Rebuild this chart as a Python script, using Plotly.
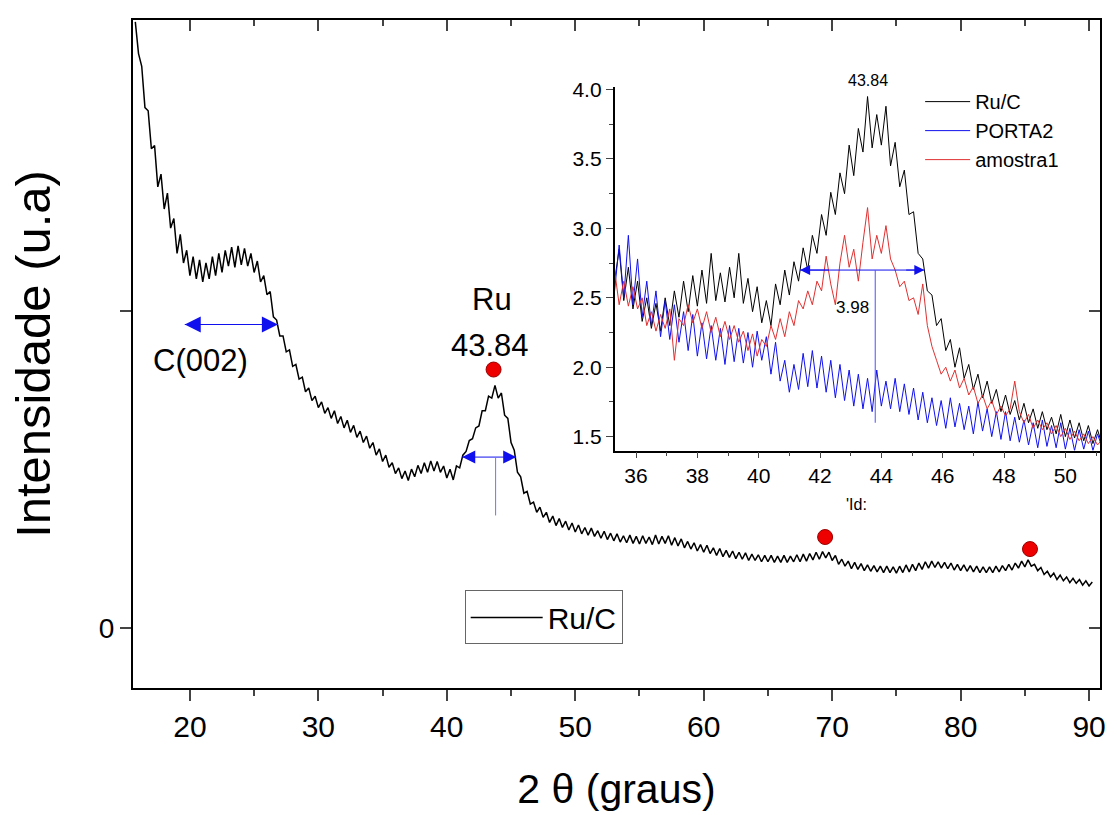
import plotly.graph_objects as go

# ---------------- data ----------------
main_x0, main_step = 15.75, 0.25
ruc_main = [
    9.55,
    9.05, 8.85, 8.2, 8.15,
    7.55, 7.6, 6.95, 7.15,
    6.6, 6.85, 6.3, 6.45,
    5.9, 6.2, 5.75, 5.95,
    5.55, 5.85, 5.5, 5.8,
    5.45, 5.75, 5.5, 5.85,
    5.55, 5.9, 5.6, 5.95,
    5.7, 6.0, 5.68, 6.02,
    5.72, 5.98, 5.7, 5.9,
    5.6, 5.78, 5.45, 5.55,
    5.25, 5.3, 4.9, 4.85,
    4.6, 4.6, 4.35, 4.38,
    4.12, 4.15, 3.92, 3.95,
    3.72, 3.78, 3.58, 3.65,
    3.47, 3.56, 3.38, 3.47,
    3.3, 3.42, 3.22, 3.33,
    3.15, 3.27, 3.08, 3.19,
    3.0, 3.1, 2.92, 3.02,
    2.83, 2.92, 2.72, 2.82,
    2.62, 2.72, 2.53, 2.6,
    2.43, 2.52, 2.35, 2.47,
    2.32, 2.5, 2.38, 2.56,
    2.43, 2.6, 2.45, 2.63,
    2.47, 2.62, 2.45, 2.55,
    2.36, 2.5, 2.33, 2.55,
    2.52, 2.72, 2.78, 2.95,
    2.98, 3.15, 3.18, 3.42,
    3.42, 3.65, 3.62, 3.82,
    3.62, 3.7, 3.35, 3.3,
    2.92, 2.8, 2.45, 2.38,
    2.12, 2.15, 1.95, 1.98,
    1.82, 1.9, 1.74, 1.82,
    1.66, 1.76, 1.61, 1.72,
    1.58, 1.68, 1.54, 1.65,
    1.51, 1.62, 1.48, 1.58,
    1.46, 1.57, 1.44, 1.53,
    1.41, 1.52, 1.39, 1.49,
    1.37, 1.48, 1.35, 1.45,
    1.34, 1.46, 1.33, 1.44,
    1.32, 1.45, 1.33, 1.43,
    1.31, 1.46, 1.32, 1.44,
    1.33, 1.45, 1.3, 1.42,
    1.29, 1.4, 1.26, 1.36,
    1.24, 1.34, 1.21, 1.31,
    1.19, 1.3, 1.17, 1.26,
    1.14, 1.25, 1.12, 1.22,
    1.11, 1.21, 1.09, 1.19,
    1.08, 1.18, 1.06, 1.16,
    1.06, 1.15, 1.04, 1.14,
    1.04, 1.14, 1.03, 1.13,
    1.03, 1.14, 1.03, 1.13,
    1.04, 1.15, 1.04, 1.16,
    1.05, 1.17, 1.07, 1.19,
    1.08, 1.2, 1.1, 1.19,
    1.06, 1.14, 1.0, 1.08,
    0.97, 1.05, 0.93, 1.03,
    0.92, 1.01, 0.9, 0.99,
    0.89, 0.98, 0.88, 0.97,
    0.87, 0.97, 0.87, 0.96,
    0.86, 0.97, 0.87, 0.99,
    0.88, 1.0, 0.9, 1.02,
    0.92, 1.04, 0.94, 1.05,
    0.95, 1.04, 0.94, 1.03,
    0.93, 1.02, 0.91, 1.0,
    0.9, 0.99, 0.89, 0.98,
    0.88, 0.97, 0.87, 0.96,
    0.87, 0.96, 0.87, 0.97,
    0.88, 0.98, 0.9, 1.0,
    0.91, 1.02, 0.94, 1.05,
    0.96, 1.07, 0.97, 1.0,
    0.9, 0.95, 0.84, 0.89,
    0.8, 0.86, 0.76, 0.83,
    0.74, 0.8, 0.71, 0.78,
    0.7, 0.76, 0.67, 0.74,
    0.66, 0.72,
]
main_x = [round(main_x0 + main_step * i, 3) for i in range(len(ruc_main))]

peak_x = [43.64, 69.45, 85.4]
peak_y = [4.07, 1.43, 1.24]

inset_x0, inset_step = 35.3, 0.15
ruc_inset = [
    2.62, 2.85, 2.48, 2.72, 2.42, 2.62, 2.33, 2.5, 2.28, 2.46,
    2.26, 2.5, 2.3, 2.55, 2.36, 2.62, 2.4, 2.66, 2.44, 2.7,
    2.46, 2.82, 2.48, 2.68, 2.47, 2.72, 2.5, 2.82, 2.46, 2.64,
    2.4, 2.58, 2.32, 2.48, 2.3, 2.6, 2.45, 2.7, 2.52, 2.76,
    2.62, 2.86, 2.7, 2.95, 2.82, 3.1, 2.95, 3.26, 3.1, 3.4,
    3.25, 3.6, 3.38, 3.72, 3.55, 3.95, 3.58, 3.82, 3.6, 3.88,
    3.45, 3.62, 3.3, 3.42, 3.1, 3.12, 2.82, 2.78, 2.55, 2.52,
    2.3, 2.35, 2.12, 2.2, 2.0, 2.14, 1.92, 2.02, 1.84, 1.95,
    1.78, 1.9, 1.74, 1.84, 1.68, 1.8, 1.66, 1.76, 1.62, 1.74,
    1.6, 1.7, 1.56, 1.68, 1.55, 1.64, 1.52, 1.66, 1.5, 1.62,
    1.49, 1.6, 1.47, 1.58, 1.45, 1.55, 1.44,
]
porta2_inset = [
    2.55, 2.88, 2.5, 2.95, 2.45, 2.78, 2.36, 2.62, 2.3, 2.55,
    2.22, 2.48, 2.2, 2.45, 2.18, 2.4, 2.12, 2.38, 2.08, 2.32,
    2.06, 2.3, 2.05, 2.28, 2.02, 2.3, 2.04, 2.28, 2.03, 2.25,
    2.0, 2.26, 2.05, 2.22, 1.95, 2.18, 1.9, 2.05, 1.82, 2.02,
    1.84, 2.1, 1.86, 2.12, 1.85, 2.08, 1.82, 2.05, 1.78, 2.02,
    1.76, 1.98, 1.72, 1.95, 1.7, 1.92, 1.68, 1.98, 1.72, 1.9,
    1.7, 1.92, 1.68, 1.88, 1.66, 1.85, 1.62, 1.82, 1.6, 1.78,
    1.58, 1.76, 1.56, 1.78, 1.57, 1.74, 1.55, 1.72, 1.52, 1.75,
    1.54, 1.7, 1.5, 1.68, 1.48, 1.68, 1.47, 1.64, 1.46, 1.62,
    1.44, 1.6, 1.42, 1.62, 1.43, 1.58, 1.42, 1.6, 1.41, 1.56,
    1.4, 1.55, 1.41, 1.54, 1.4, 1.52, 1.42,
]
amostra1_inset = [
    2.7, 2.45, 2.62, 2.44, 2.58, 2.42, 2.5, 2.3, 2.4, 2.26,
    2.38, 2.28, 2.42, 2.05, 2.35, 2.3, 2.45, 2.32, 2.42, 2.28,
    2.4, 2.25, 2.36, 2.22, 2.33, 2.2, 2.3, 2.18, 2.26, 2.12,
    2.24, 2.08, 2.2, 2.15, 2.3, 2.2, 2.35, 2.22, 2.4, 2.3,
    2.48, 2.42, 2.55, 2.45, 2.62, 2.55, 2.8, 2.6, 2.45, 2.75,
    2.95, 2.72, 2.85, 2.62, 2.9, 3.15, 2.78, 2.95, 2.82, 3.02,
    2.78, 2.7, 2.58, 2.62, 2.48, 2.5, 2.38, 2.6, 2.3, 2.15,
    2.05, 1.95, 2.0, 1.9, 1.98, 1.85, 1.92, 1.8, 1.86, 1.74,
    1.8, 1.7, 1.76, 1.66, 1.72, 1.65, 1.7, 1.9, 1.68, 1.6,
    1.66, 1.56, 1.62, 1.55, 1.6, 1.52, 1.58, 1.5, 1.56, 1.48,
    1.54, 1.47, 1.52, 1.45, 1.5, 1.44, 1.48,
]
inset_x = [round(inset_x0 + inset_step * i, 3) for i in range(len(ruc_inset))]

main_xticks = [20, 30, 40, 50, 60, 70, 80, 90]
main_xminor = [25, 35, 45, 55, 65, 75, 85]
main_yticks = [0, 5]
main_yticktext = ["0", ""]
inset_xticks = [36, 38, 40, 42, 44, 46, 48, 50]
inset_xminor = [37, 39, 41, 43, 45, 47, 49, 51]
inset_yticks = [1.5, 2.0, 2.5, 3.0, 3.5, 4.0]
inset_yticktext = ["1.5", "2.0", "2.5", "3.0", "3.5", "4.0"]
inset_yminor = [1.75, 2.25, 2.75, 3.25, 3.75]

# FWHM arrows
c002_x = [19.6, 26.85]
c002_y = 4.78
ru_arrow_x = [41.2, 45.4]
ru_arrow_y = 2.69
ru_center = 43.8
ru_drop_y = 1.77
inset_arrow_x = [41.35, 45.4]
inset_arrow_y = 2.70
inset_center = 43.8
inset_drop_y = 1.6

FONT = "Liberation Sans, Arial, sans-serif"
BLUE = "#1010ee"

fig = go.Figure()

fig.add_trace(go.Scatter(x=main_x, y=ruc_main, mode="lines", name="Ru/C",
                         line=dict(color="black", width=1.5), legend="legend"))
fig.add_trace(go.Scatter(x=peak_x, y=peak_y, mode="markers", showlegend=False,
                         marker=dict(color="#ee0000", size=15,
                                     line=dict(color="#990000", width=1))))
# invisible trace for the mirrored frame axes
fig.add_trace(go.Scatter(x=[None], y=[None], xaxis="x3", yaxis="y3",
                         showlegend=False, hoverinfo="skip"))

fig.add_trace(go.Scatter(x=inset_x, y=ruc_inset, mode="lines", name="Ru/C",
                         xaxis="x2", yaxis="y2", legend="legend2",
                         line=dict(color="black", width=1)))
fig.add_trace(go.Scatter(x=inset_x, y=porta2_inset, mode="lines", name="PORTA2",
                         xaxis="x2", yaxis="y2", legend="legend2",
                         line=dict(color=BLUE, width=1)))
fig.add_trace(go.Scatter(x=inset_x, y=amostra1_inset, mode="lines", name="amostra1",
                         xaxis="x2", yaxis="y2", legend="legend2",
                         line=dict(color="#e03030", width=1)))

X_RANGE = [15.57, 90.85]
Y_RANGE = [-0.95, 9.58]

fig.update_layout(
    width=1117, height=815,
    margin=dict(l=133, r=16, t=11, b=127),
    paper_bgcolor="white", plot_bgcolor="rgba(0,0,0,0)",
    font=dict(family=FONT, color="black"),
    xaxis=dict(range=X_RANGE, tickvals=main_xticks, ticks="outside", ticklen=11,
               tickwidth=1.5, showline=True, linewidth=2, linecolor="black",
               showgrid=False, zeroline=False, tickfont=dict(size=30),
               minor=dict(tickvals=main_xminor, ticks="outside",
                          ticklen=6, tickwidth=1.5),
               title=dict(text="2 θ (graus)", font=dict(size=41), standoff=32)),
    yaxis=dict(range=Y_RANGE, tickvals=main_yticks, ticktext=main_yticktext,
               ticks="outside", ticklen=11, tickwidth=1.5, showline=True,
               linewidth=2, linecolor="black", showgrid=False, zeroline=False,
               tickfont=dict(size=28),
               title=dict(text="Intensidade (u.a)", font=dict(size=49), standoff=33)),
    xaxis3=dict(range=X_RANGE, overlaying="x", side="top", anchor="y3",
                tickvals=main_xticks, ticks="inside", ticklen=11, tickwidth=1.5,
                showticklabels=False, showline=True, linewidth=2, linecolor="black",
                showgrid=False, zeroline=False,
                minor=dict(tickvals=main_xminor, ticks="inside",
                           ticklen=6, tickwidth=1.5)),
    yaxis3=dict(range=Y_RANGE, overlaying="y", side="right", anchor="x3",
                tickvals=main_yticks, ticks="inside", ticklen=11, tickwidth=1.5,
                showticklabels=False, showline=True, linewidth=2, linecolor="black",
                showgrid=False, zeroline=False),
    xaxis2=dict(domain=[0.498, 1.0], anchor="y2", range=[35.3, 51.13],
                tickvals=inset_xticks, ticks="outside", ticklen=6, tickwidth=1,
                showline=True, linewidth=1.5, linecolor="black", showgrid=False,
                zeroline=False, tickfont=dict(size=21),
                minor=dict(tickvals=inset_xminor, ticks="outside",
                           ticklen=4, tickwidth=1)),
    yaxis2=dict(domain=[0.3555, 0.900], anchor="x2", range=[1.40, 4.02],
                tickvals=inset_yticks, ticktext=inset_yticktext, ticks="outside",
                ticklen=7, tickwidth=1, showline=True, linewidth=1.5,
                linecolor="black", showgrid=False, zeroline=False,
                tickfont=dict(size=21),
                minor=dict(tickvals=inset_yminor, ticks="outside",
                           ticklen=4, tickwidth=1)),
    legend=dict(x=0.343, y=0.146, xanchor="left", yanchor="top",
                bordercolor="#666666", borderwidth=1, bgcolor="white",
                font=dict(size=30), itemwidth=72),
    legend2=dict(x=0.814, y=0.907, xanchor="left", yanchor="top",
                 bgcolor="rgba(0,0,0,0)", borderwidth=0,
                 font=dict(size=20), itemwidth=45, tracegroupgap=0),
)

ann = []
# main texts
ann.append(dict(x=20.8, y=4.22, xref="x", yref="y", text="C(002)", showarrow=False,
                font=dict(size=31)))
ann.append(dict(x=43.5, y=5.18, xref="x", yref="y", text="Ru", showarrow=False,
                font=dict(size=31)))
ann.append(dict(x=43.35, y=4.45, xref="x", yref="y", text="43.84", showarrow=False,
                font=dict(size=31)))


def double_arrow(xs, yv, center, xr, yr, size):
    # arrow heads only; the shaft is drawn as a line shape
    for end in xs:
        tail = end + (center - end) * 0.4
        ann.append(dict(x=end, y=yv, ax=tail, ay=yv, xref=xr, yref=yr,
                        axref=xr, ayref=yr, text="", showarrow=True, arrowhead=2,
                        arrowsize=size, arrowwidth=1, arrowcolor=BLUE))
    fig.add_shape(type="line", xref=xr, yref=yr, x0=xs[0], x1=xs[1], y0=yv, y1=yv,
                  line=dict(color=BLUE, width=1))


double_arrow(c002_x, c002_y, sum(c002_x) / 2, "x", "y", 3.2)
double_arrow(ru_arrow_x, ru_arrow_y, ru_center, "x", "y", 2.6)
double_arrow(inset_arrow_x, inset_arrow_y, inset_center, "x2", "y2", 2.0)

# inset texts (y placed in paper space, outside the inset value range)
ann.append(dict(x=43.58, y=0.910, xref="x2", yref="paper", yanchor="middle",
                text="43.84", showarrow=False, font=dict(size=16)))
ann.append(dict(x=43.05, y=2.43, xref="x2", yref="y2", text="3.98", showarrow=False,
                font=dict(size=17)))
ann.append(dict(x=43.18, y=0.2747, xref="x2", yref="paper", yanchor="middle",
                text="'Id:", showarrow=False, font=dict(size=16)))
fig.update_layout(annotations=ann)

fig.add_shape(type="line", xref="x", yref="y", x0=ru_center, x1=ru_center,
              y0=ru_arrow_y, y1=ru_drop_y, line=dict(color="#7070ff", width=1))
fig.add_shape(type="line", xref="x2", yref="y2", x0=inset_center, x1=inset_center,
              y0=inset_arrow_y, y1=inset_drop_y, line=dict(color="#5050ff", width=1))

fig.write_html("out.html")
